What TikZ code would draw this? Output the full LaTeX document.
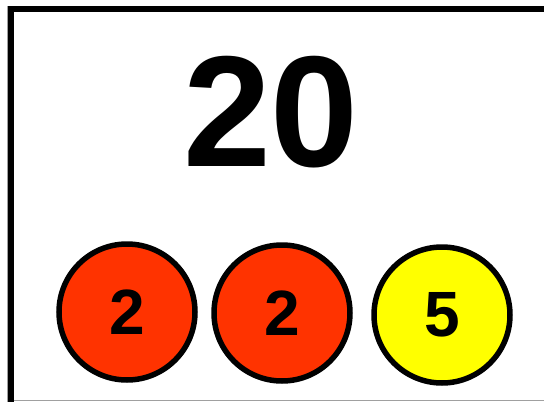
\documentclass[tikz,border=0pt]{standalone}
\usepackage{fontspec}
\setmainfont{Liberation Sans}
\definecolor{coinred}{HTML}{FF3300}
\definecolor{coinyellow}{HTML}{FFFF00}
\definecolor{edgegray}{HTML}{A0A0A0}

\begin{document}
\begin{tikzpicture}[
  x=1pt,
  y=-1pt,
  line join=miter,
  frame/.style={draw=black,line width=6pt},
  thin edge/.style={draw=edgegray,line width=1pt},
  coin/.style={circle,draw=black,line width=5.5pt,minimum size=136pt,inner sep=0pt,
    font=\fontsize{64}{64}\selectfont\bfseries},
  total/.style={inner sep=0pt,font=\fontsize{158}{158}\selectfont\bfseries}
]
  \useasboundingbox (0,0) rectangle (544,402);

  % Frame, cut off on the right.
  \draw[thin edge] (7.5,6) -- (7.5,402);
  \draw[thin edge] (10,400.5) -- (544,400.5);
  \draw[frame] (544,9) -- (10.5,9) -- (10.5,402);

  % Target sum.
  \node[total] (sum) at (271,112) {20};

  % Coins that add up to it.
  \node[coin,fill=coinred] (coinA) at (127,312) {2};
  \node[coin,fill=coinred] (coinB) at (282,313) {2};
  \node[coin,fill=coinyellow] (coinC) at (442,315) {5};
\end{tikzpicture}
\end{document}
